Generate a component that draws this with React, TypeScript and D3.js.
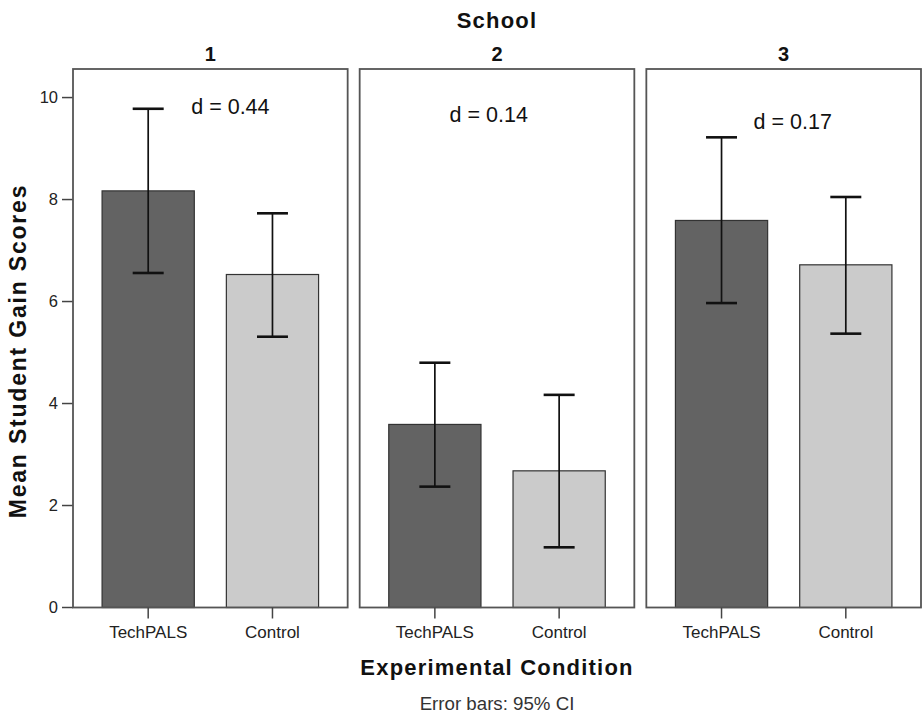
import React, { useRef, useEffect } from "react";
import * as d3 from "d3";

// values
const schools = ["1", "2", "3"];
const conditions = ["TechPALS", "Control"];
const techpalsMean = [8.17, 3.59, 7.59];
const techpalsLow = [6.56, 2.37, 5.97];
const techpalsHigh = [9.78, 4.8, 9.22];
const controlMean = [6.53, 2.68, 6.72];
const controlLow = [5.31, 1.18, 5.37];
const controlHigh = [7.73, 4.17, 8.05];
const effectLabels = ["d = 0.44", "d = 0.14", "d = 0.17"];
const yTicks = [0, 2, 4, 6, 8, 10];

// where the "d = ..." notes sit: fraction across the panel, value on the y scale
const effectPos = [
  { fx: 0.573, v: 9.83 },
  { fx: 0.47, v: 9.66 },
  { fx: 0.533, v: 9.54 }
];

const W = 923;
const H = 715;
const font = "'Liberation Sans', Arial, sans-serif";

export default function App() {
  const ref = useRef<SVGGElement>(null);

  useEffect(() => {
    const g = d3.select(ref.current);
    g.selectAll("*").remove();

    const top = 69;
    const bottom = 607.5;

    const panelX = d3
      .scaleBand<string>()
      .domain(schools)
      .range([73, 921])
      .paddingInner(0.0419);
    const pw = panelX.bandwidth();

    const condX = d3
      .scaleBand<string>()
      .domain(conditions)
      .range([0, pw])
      .paddingInner(0.258)
      .paddingOuter(0.234);

    const y = d3.scaleLinear().domain([0, 10.56]).range([bottom, top]);

    const rows = schools.map((s, i) => ({
      school: s,
      bars: [
        { cond: "TechPALS", mean: techpalsMean[i], lo: techpalsLow[i], hi: techpalsHigh[i], fill: "#636363" },
        { cond: "Control", mean: controlMean[i], lo: controlLow[i], hi: controlHigh[i], fill: "#cbcbcb" }
      ]
    }));

    // y axis on the first panel
    const yAxis = g.append("g").attr("transform", `translate(${panelX("1")},0)`);
    yAxis
      .selectAll("line")
      .data(yTicks)
      .join("line")
      .attr("x1", -11)
      .attr("x2", 0)
      .attr("y1", d => y(d))
      .attr("y2", d => y(d))
      .attr("stroke", "#444")
      .attr("stroke-width", 1.5);
    yAxis
      .selectAll("text")
      .data(yTicks)
      .join("text")
      .attr("x", -15)
      .attr("y", d => y(d))
      .attr("dy", "0.35em")
      .attr("text-anchor", "end")
      .attr("font-family", font)
      .attr("font-size", 16.5)
      .attr("fill", "#222")
      .text(d => d);

    const panels = g
      .selectAll("g.panel")
      .data(rows)
      .join("g")
      .attr("class", "panel")
      .attr("transform", d => `translate(${panelX(d.school)},0)`);

    // bars
    panels
      .selectAll("rect.bar")
      .data(d => d.bars)
      .join("rect")
      .attr("class", "bar")
      .attr("x", d => condX(d.cond)!)
      .attr("y", d => y(d.mean))
      .attr("width", condX.bandwidth())
      .attr("height", d => y(0) - y(d.mean))
      .attr("fill", d => d.fill)
      .attr("stroke", "#333")
      .attr("stroke-width", 1.2);

    // error bars
    const eb = panels
      .selectAll("g.err")
      .data(d => d.bars)
      .join("g")
      .attr("class", "err")
      .attr("transform", d => `translate(${condX(d.cond)! + condX.bandwidth() / 2},0)`);
    eb.append("line")
      .attr("y1", d => y(d.lo))
      .attr("y2", d => y(d.hi))
      .attr("stroke", "#111")
      .attr("stroke-width", 1.7);
    eb.selectAll("line.cap")
      .data(d => [d.lo, d.hi])
      .join("line")
      .attr("class", "cap")
      .attr("x1", -15.5)
      .attr("x2", 15.5)
      .attr("y1", d => y(d))
      .attr("y2", d => y(d))
      .attr("stroke", "#111")
      .attr("stroke-width", 2.6);

    // panel frames
    panels
      .append("rect")
      .attr("x", 0)
      .attr("y", top)
      .attr("width", pw)
      .attr("height", bottom - top)
      .attr("fill", "none")
      .attr("stroke", "#555")
      .attr("stroke-width", 1.8);

    // x ticks + labels
    panels
      .selectAll("line.xt")
      .data(conditions)
      .join("line")
      .attr("class", "xt")
      .attr("x1", d => condX(d)! + condX.bandwidth() / 2)
      .attr("x2", d => condX(d)! + condX.bandwidth() / 2)
      .attr("y1", bottom)
      .attr("y2", bottom + 11)
      .attr("stroke", "#444")
      .attr("stroke-width", 1.5);
    panels
      .selectAll("text.xl")
      .data(conditions)
      .join("text")
      .attr("class", "xl")
      .attr("x", d => condX(d)! + condX.bandwidth() / 2)
      .attr("y", 638)
      .attr("text-anchor", "middle")
      .attr("font-family", font)
      .attr("font-size", 17)
      .attr("fill", "#222")
      .text(d => d);

    // panel numbers
    panels
      .append("text")
      .attr("x", pw / 2)
      .attr("y", 61)
      .attr("text-anchor", "middle")
      .attr("font-family", font)
      .attr("font-weight", "bold")
      .attr("font-size", 20)
      .attr("fill", "#111")
      .text(d => d.school);

    // effect sizes
    panels
      .append("text")
      .attr("x", (d, i) => pw * effectPos[i].fx)
      .attr("y", (d, i) => y(effectPos[i].v))
      .attr("dy", "0.35em")
      .attr("text-anchor", "middle")
      .attr("font-family", font)
      .attr("font-size", 21.5)
      .attr("fill", "#111")
      .text((d, i) => effectLabels[i]);

    // titles
    const mid = (panelX("1")! + panelX("3")! + pw) / 2;
    g.append("text")
      .attr("x", mid)
      .attr("y", 28)
      .attr("text-anchor", "middle")
      .attr("font-family", font)
      .attr("font-weight", "bold")
      .attr("font-size", 22)
      .attr("letter-spacing", 1.2)
      .attr("fill", "#111")
      .text("School");
    g.append("text")
      .attr("x", mid)
      .attr("y", 675)
      .attr("text-anchor", "middle")
      .attr("font-family", font)
      .attr("font-weight", "bold")
      .attr("font-size", 22)
      .attr("letter-spacing", 1.2)
      .attr("fill", "#111")
      .text("Experimental Condition");
    g.append("text")
      .attr("x", mid)
      .attr("y", 710)
      .attr("text-anchor", "middle")
      .attr("font-family", font)
      .attr("font-size", 18.7)
      .attr("fill", "#333")
      .text("Error bars: 95% CI");
    g.append("text")
      .attr("transform", `translate(26,351) rotate(-90)`)
      .attr("text-anchor", "middle")
      .attr("font-family", font)
      .attr("font-weight", "bold")
      .attr("font-size", 23)
      .attr("letter-spacing", 1.8)
      .attr("fill", "#111")
      .text("Mean Student Gain Scores");
  }, []);

  return (
    <svg
      width={W}
      height={H}
      style={{ position: "absolute", left: 0, top: 0, background: "#fff" }}
    >
      <g ref={ref} />
    </svg>
  );
}
